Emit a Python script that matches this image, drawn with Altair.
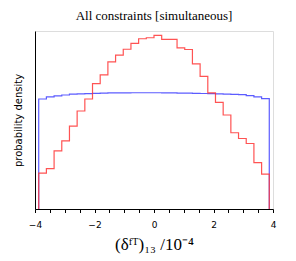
import altair as alt
import pandas as pd

# bin edges: 30 bins from -3.875 to 3.875
x_min = -3.875
x_max = 3.875
n_bins = 30

red_density = [0.0402, 0.0454, 0.0654, 0.0766, 0.0932, 0.1101, 0.1236, 0.1409, 0.1507, 0.1653,
               0.1728, 0.1795, 0.1860, 0.1913, 0.1924, 0.1950, 0.1905, 0.1905, 0.1811, 0.1792,
               0.1631, 0.1491, 0.1304, 0.1198, 0.1056, 0.0857, 0.0792, 0.0736, 0.0522, 0.0391]
blue_density = [0.1236, 0.1259, 0.1270, 0.1281, 0.1290, 0.1293, 0.1296, 0.1300, 0.1302, 0.1304,
                0.1304, 0.1304, 0.1306, 0.1306, 0.1306, 0.1306, 0.1304, 0.1304, 0.1302, 0.1302,
                0.1300, 0.1298, 0.1296, 0.1293, 0.1290, 0.1288, 0.1285, 0.1274, 0.1259, 0.1240]

series_names = ["blue", "red"]
series_colors = ["#4040ff", "#ff3535"]

width_bin = (x_max - x_min) / n_bins
edges = [x_min + i * width_bin for i in range(n_bins + 1)]


def step_rows(values, name, order0):
    rows = [{"x": edges[0], "y": 0.0, "s": name, "o": order0}]
    for i, v in enumerate(values):
        rows.append({"x": edges[i], "y": v, "s": name, "o": order0 + 1 + i})
    rows.append({"x": edges[-1], "y": 0.0, "s": name, "o": order0 + n_bins + 1})
    return rows


df = pd.DataFrame(step_rows(blue_density, "blue", 0) + step_rows(red_density, "red", 100))

x_ticks = [-4 + 0.5 * i for i in range(17)]

base = alt.Chart(df)

lines = []
for name, col in zip(series_names, series_colors):
    lines.append(
        base.transform_filter(alt.datum.s == name).mark_line(
            interpolate="step-after", color=col, strokeWidth=1.2, opacity=0.85
        ).encode(
            x=alt.X("x:Q", scale=alt.Scale(domain=[-4, 4], nice=False, zero=False),
                    axis=alt.Axis(values=x_ticks,
                                  labelExpr="datum.value % 2 == 0 ? replace(format(datum.value, 'd'), '-', '\u2212') : ''",
                                  title="(δᶠᵀ)₁₃ /10⁻⁴",
                                  titleFont="Liberation Serif", titleFontSize=17, titleFontWeight="normal",
                                  titleColor="black", titlePadding=7,
                                  labelFont="DejaVu Sans", labelFontSize=9, labelColor="black",
                                  labelPadding=8, tickSize=3.5, tickColor="black",
                                  domainColor="black", grid=False, labelFlush=False)),
            y=alt.Y("y:Q", scale=alt.Scale(domain=[0, 0.2], nice=False),
                    axis=alt.Axis(title="probability density", labels=False, ticks=False,
                                  grid=False, domainColor="black",
                                  titleFont="DejaVu Sans", titleFontSize=10,
                                  titleFontWeight="normal", titleColor="black",
                                  titlePadding=12)),
            order="o:Q",
        )
    )

chart = alt.layer(*lines).properties(
    width=238, height=178,
    title=alt.TitleParams("All constraints [simultaneous]", font="Liberation Serif",
                          fontSize=13, fontWeight="normal", color="black", offset=8),
    autosize=alt.AutoSizeParams(type="none"),
    padding={"left": 27, "top": 23, "right": 10, "bottom": 45},
).configure_view(stroke="#a0a0a0", strokeWidth=1.5).configure(background="white")

chart.save("out.html", embed_options={"renderer": "svg", "actions": False})
